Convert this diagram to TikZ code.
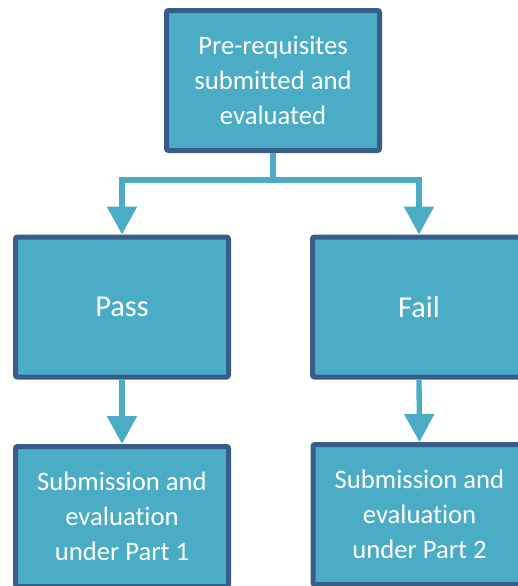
\documentclass[tikz,border=0pt]{standalone}
\usepackage{fontspec}
\setmainfont{Carlito}[Ligatures=NoCommon]
\usetikzlibrary{arrows.meta}
\definecolor{boxfill}{RGB}{75,172,198}
\definecolor{boxline}{RGB}{56,93,138}
\begin{document}
\begin{tikzpicture}[x=0.75pt,y=-0.75pt,
  flowbox/.style={draw=boxline,fill=boxfill,line width=3.75pt,rounded corners=1.5pt,
    minimum width=159.75pt,minimum height=105pt,inner sep=0pt,text=white,align=center,
    font=\fontsize{20}{26.25}\selectfont},
  bigbox/.style={flowbox,font=\fontsize{22.8}{27}\selectfont},
  link/.style={draw=boxfill,line width=4pt,
    -{Triangle[width=21.75pt,length=21pt]}}]
\useasboundingbox (0,0) rectangle (518,586);
\clip (0,0) rectangle (518,586);
\node[flowbox] (top) at (273,80.5) {Pre-requisites\\submitted and\\evaluated};
\node[bigbox] (pass) at (122,307) {Pass};
\node[bigbox] (fail) at (419,307) {Fail};
\node[flowbox] (sub1) at (122,516.5) {Submission and\\evaluation\\under Part 1};
\node[flowbox] (sub2) at (419.5,514.5) {Submission and\\evaluation\\under Part 2};
\coordinate (split) at (273,180);
\draw[draw=boxfill,line width=4pt] (top.south) -- (split);
\draw[link] (split) -| (pass.north);
\draw[link] (split) -| (fail.north);
\draw[link] (pass.south) -- (sub1.north);
\draw[link] (fail.south) -- (sub2.north);
\end{tikzpicture}
\end{document}
